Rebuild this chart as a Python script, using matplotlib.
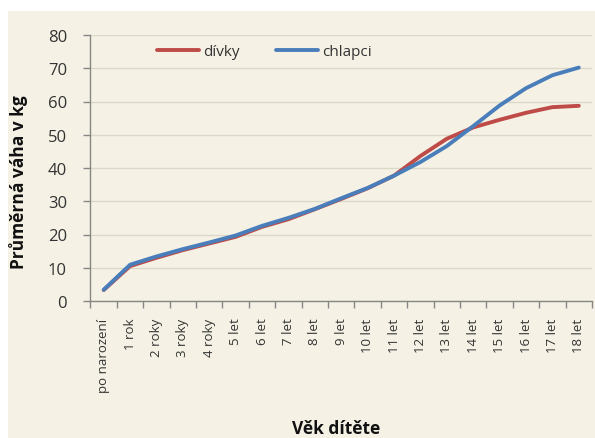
import matplotlib
matplotlib.use("Agg")
import matplotlib.pyplot as plt
import numpy as np
from matplotlib.patches import Rectangle

categories = ["po narození", "1 rok", "2 roky", "3 roky", "4 roky", "5 let", "6 let",
              "7 let", "8 let", "9 let", "10 let", "11 let", "12 let", "13 let",
              "14 let", "15 let", "16 let", "17 let", "18 let"]
divky = [3.3, 10.5, 13.0, 15.3, 17.3, 19.3, 22.3, 24.6, 27.6, 30.7, 33.9, 37.7, 43.6, 48.8,
         52.2, 54.5, 56.6, 58.3, 58.7]
chlapci = [3.4, 10.9, 13.4, 15.6, 17.6, 19.7, 22.6, 25.0, 27.7, 30.9, 34.0, 37.7, 41.8, 46.6,
           52.6, 58.8, 64.0, 67.9, 70.2]
yticks = [0, 10, 20, 30, 40, 50, 60, 70, 80]

plt.rcParams['font.family'] = ['Open Sans', 'DejaVu Sans']

W, H = 595, 439
fig = plt.figure(figsize=(W / 100, H / 100), dpi=100, facecolor='white')
bg = '#f5f2e5'
fig.patches.append(Rectangle((8 / W, 0), 1 - 8 / W, (H - 12) / H, transform=fig.transFigure,
                             facecolor=bg, edgecolor='none', zorder=-10))

ax = fig.add_axes([90.5 / W, (H - 302) / H, (592 - 90.5) / W, (302 - 36) / H])
ax.set_facecolor(bg)

x = np.arange(len(categories))
ax.plot(x, divky, color='#be4b48', lw=2.8, solid_capstyle='round', solid_joinstyle='round',
        label='dívky', zorder=3)
ax.plot(x, chlapci, color='#4a7ebb', lw=2.8, solid_capstyle='round', solid_joinstyle='round',
        label='chlapci', zorder=4)

ax.set_xlim(-0.5, len(categories) - 0.5)
ax.set_ylim(0, 80)
ax.set_yticks(yticks)
ax.set_yticklabels([str(v) for v in yticks], fontsize=12, color='#333333')
ax.set_xticks(x)
ax.set_xticklabels(categories, rotation=90, fontsize=9.5, color='#333333')
ax.set_xticks(np.arange(len(categories) + 1) - 0.5, minor=True)
ax.tick_params(axis='x', which='major', length=0, pad=12)
ax.tick_params(axis='x', which='minor', length=5, width=1, color='#868686', direction='out')
ax.tick_params(axis='y', length=5, width=1, color='#868686', pad=12)

ax.grid(axis='y', color='#dcd8c8', lw=1)
ax.set_axisbelow(True)
for s in ['top', 'right']:
    ax.spines[s].set_visible(False)
for s in ['left', 'bottom']:
    ax.spines[s].set_color('#868686')
    ax.spines[s].set_linewidth(1)

ax.set_ylabel('Průměrná váha v kg', fontsize=12.5, fontweight='bold', color='#111111')
ax.yaxis.set_label_coords(-0.125, 0.45)
fig.text(336 / W, 1 / H, 'Věk dítěte', fontsize=12.5, fontweight='bold', color='#111111',
         ha='center', va='bottom')

leg = ax.legend(loc='upper left', bbox_to_anchor=(0.115, 1.0), ncol=2, frameon=False,
                fontsize=11, handlelength=2.7, handletextpad=0.3, columnspacing=2.4,
                borderaxespad=0.2)
for t in leg.get_texts():
    t.set_color('#333333')

fig.savefig('out.png', dpi=100, facecolor='white')
